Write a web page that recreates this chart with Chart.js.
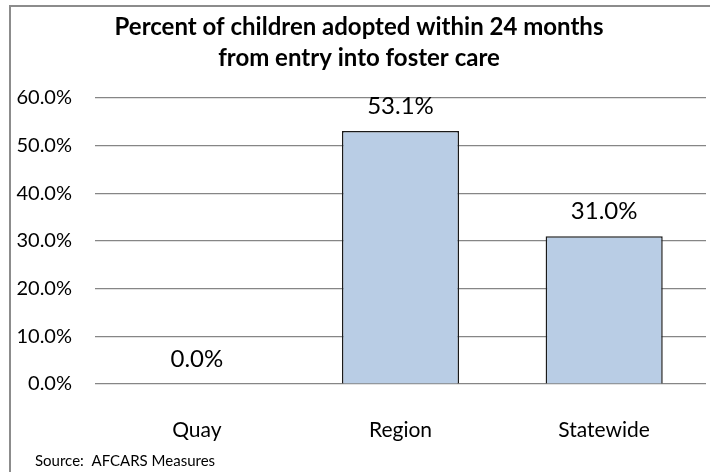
<!DOCTYPE html>
<html>
<head>
<meta charset="utf-8">
<script src="https://cdn.jsdelivr.net/npm/chart.js@4.4.1/dist/chart.umd.min.js"></script>
<style>
html,body{margin:0;padding:0;background:#fff;}
#wrap{position:relative;width:710px;height:472px;overflow:hidden;}
#frame{position:absolute;left:9px;top:5px;width:760px;height:520px;border:2px solid #8c8c8c;box-sizing:border-box;}
canvas{position:absolute;left:0;top:0;}
</style>
</head>
<body>
<div id="wrap">
<div id="frame"></div>
<canvas id="c" width="710" height="472"></canvas>
</div>
<script>
const categories = ['Quay', 'Region', 'Statewide'];
const values = [0.0, 53.1, 31.0];
const yTicks = [0, 10, 20, 30, 40, 50, 60];
const titleLines = ['Percent of children adopted within 24 months', 'from entry into foster care'];
const sourceText = 'Source:  AFCARS Measures';

const FONT = 'Lato, "Liberation Sans", sans-serif';

const overlay = {
  id: 'overlay',
  afterDatasetsDraw(chart) {
    const ctx = chart.ctx;
    const meta = chart.getDatasetMeta(0);
    ctx.save();
    ctx.fillStyle = '#000';
    ctx.textAlign = 'center';
    ctx.textBaseline = 'middle';
    ctx.font = '24px ' + FONT;
    meta.data.forEach((bar, i) => {
      ctx.fillText(values[i].toFixed(1) + '%', bar.x, bar.y - 25);
    });
    ctx.font = 'bold 24px ' + FONT;
    titleLines.forEach((t, i) => {
      ctx.fillText(t, 359, 27 + i * 31);
    });
    ctx.textAlign = 'left';
    ctx.font = '15px ' + FONT;
    ctx.fillText(sourceText, 35, 461);
    ctx.restore();
  }
};

new Chart(document.getElementById('c'), {
  type: 'bar',
  data: {
    labels: categories,
    datasets: [{
      data: values,
      backgroundColor: '#B9CDE5',
      borderColor: '#1a1a1a',
      borderWidth: 1.5,
      categoryPercentage: 1.0,
      barPercentage: 0.575
    }]
  },
  options: {
    responsive: false,
    animation: false,
    devicePixelRatio: 1,
    layout: { padding: { top: 98, right: 4, left: 0, bottom: 0 } },
    plugins: { legend: { display: false }, tooltip: { enabled: false }, title: { display: false } },
    scales: {
      x: {
        grid: { display: false, drawTicks: false },
        border: { display: false },
        ticks: { color: '#000', font: { family: FONT, size: 21 }, padding: 34 },
        afterFit(s) { s.height = 88; }
      },
      y: {
        min: 0, max: 60,
        afterBuildTicks(s) { s.ticks = yTicks.map(v => ({ value: v })); },
        grid: { color: '#868686', lineWidth: 1.2, drawTicks: false },
        border: { display: false },
        ticks: { color: '#000', font: { family: FONT, size: 20 }, padding: 23,
          callback: v => Number(v).toFixed(1) + '%' },
        afterFit(s) { s.width = 95; }
      }
    }
  },
  plugins: [overlay]
});
</script>
</body>
</html>
